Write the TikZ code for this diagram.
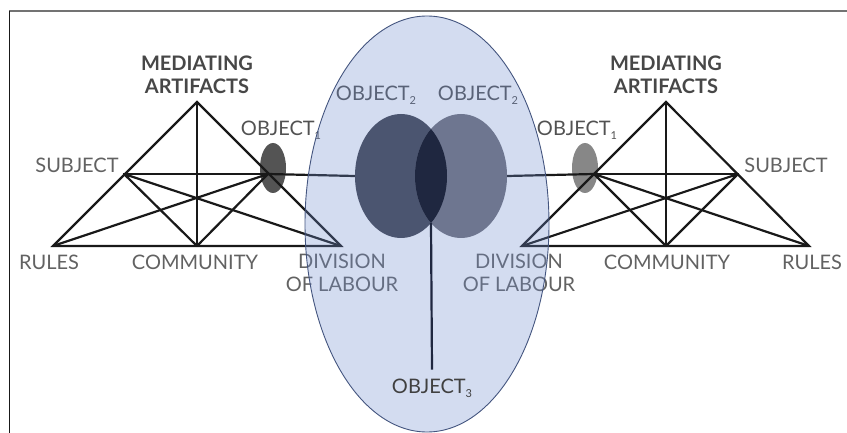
\documentclass[tikz,border=0pt]{standalone}
\usepackage{fontspec}
\setmainfont{Lato}
\usetikzlibrary{shapes.geometric}

\definecolor{bigblue}{RGB}{108,138,205}
\definecolor{rimblue}{RGB}{68,85,127}
\definecolor{objleft}{RGB}{75,85,112}
\definecolor{objright}{RGB}{110,118,144}
\definecolor{objmid}{RGB}{31,39,64}
\definecolor{labgrey}{RGB}{98,98,98}

\newcommand{\objsub}[1]{\raisebox{-4pt}{\fontsize{11}{11}\selectfont #1}}

\tikzset{
  edge/.style={line width=2.2pt, black!90, line cap=round},
  lab/.style={font=\fontsize{20}{23}\selectfont, text=labgrey, inner sep=0pt, align=center},
  headlab/.style={font=\fontsize{20}{23}\selectfont\bfseries, text=black!72, inner sep=0pt, align=center},
  objlab/.style={font=\fontsize{20}{23}\selectfont, text=black!68, inner sep=0pt},
  blob/.style={ellipse, draw=none, inner sep=0pt, minimum width=26pt, minimum height=50pt},
  ring/.style={ellipse, draw=none, inner sep=0pt, minimum width=92pt, minimum height=124pt},
}

\begin{document}
\begin{tikzpicture}[x=1pt,y=-1pt]
  \useasboundingbox (0,0) rectangle (847,433);

  % frame
  \draw [black!55, line width=1.5pt] (9,11) -- (847,11);
  \draw [black!90, line width=1.5pt] (9.5,11) -- (9.5,433);

  % left activity system
  \coordinate (lA) at (197,102);
  \coordinate (lS) at (124,174);
  \coordinate (lO) at (268,174);
  \coordinate (lR) at (53,246);
  \coordinate (lC) at (197,246);
  \coordinate (lD) at (341,246);
  \node (lblob) [blob, fill=black!67] at (273,168) {};
  \draw [edge] (lA) -- (lR) -- (lD) -- cycle;
  \draw [edge] (lA) -- (lC);
  \draw [edge] (lS) -- (lO);
  \draw [edge] (lS) -- (lC) (lS) -- (lD);
  \draw [edge] (lO) -- (lR) (lO) -- (lC);

  % right activity system
  \coordinate (rA) at (666,102);
  \coordinate (rS) at (738,174);
  \coordinate (rO) at (594,174);
  \coordinate (rR) at (809,246);
  \coordinate (rC) at (666,246);
  \coordinate (rD) at (522,246);
  \node (rblob) [blob, fill=black!47] at (585,168) {};
  \draw [edge] (rA) -- (rR) -- (rD) -- cycle;
  \draw [edge] (rA) -- (rC);
  \draw [edge] (rS) -- (rO);
  \draw [edge] (rS) -- (rC) (rS) -- (rD);
  \draw [edge] (rO) -- (rR) (rO) -- (rC);

  % shared objects
  \node (lring) [ring] at (401,176) {};
  \node (rring) [ring] at (461,176) {};
  \draw [edge] (lO) -- (lring.west);
  \draw [edge] (rO) -- (rring.east);

  % labels
  \node (lhead) [headlab] at (197,75) {MEDIATING\\ARTIFACTS};
  \node (rhead) [headlab] at (666,75) {MEDIATING\\ARTIFACTS};
  \node (lsubj) [lab] at (77,165) {SUBJECT};
  \node (rsubj) [lab] at (786,165) {SUBJECT};
  \node (lrule) [lab] at (49,262) {RULES};
  \node (rrule) [lab] at (812,262) {RULES};
  \node (lcomm) [lab] at (195,262) {COMMUNITY};
  \node (rcomm) [lab] at (667,262) {COMMUNITY};
  \node (ldivi) [lab] at (342,273) {DIVISION\\OF LABOUR};
  \node (rdivi) [lab] at (519,273) {DIVISION\\OF LABOUR};
  \node (lob1) [objlab] at (281,130) {OBJECT\objsub{1}};
  \node (rob1) [objlab] at (577,130) {OBJECT\objsub{1}};
  \node (lob2) [objlab] at (376,95) {OBJECT\objsub{2}};
  \node (rob2) [objlab] at (478,95) {OBJECT\objsub{2}};

  % the wide ellipse round object 2 and 3
  \draw [rimblue, line width=0.9pt, fill=bigblue, fill opacity=0.3] (427,224) ellipse (122 and 208);

  \fill [objleft] (401,176) ellipse (46 and 62);
  \fill [objright] (461,176) ellipse (46 and 62);
  \begin{scope}
    \clip (401,176) ellipse (46 and 62);
    \fill [objmid] (461,176) ellipse (46 and 62);
  \end{scope}
  \coordinate (lens) at (431,223);

  \node (ob3) [objlab, text=black!75] at (432,388) {OBJECT\objsub{3}};
  \draw [line width=2.2pt, objmid] (lens) -- ([yshift=9pt]ob3.north);
\end{tikzpicture}
\end{document}
